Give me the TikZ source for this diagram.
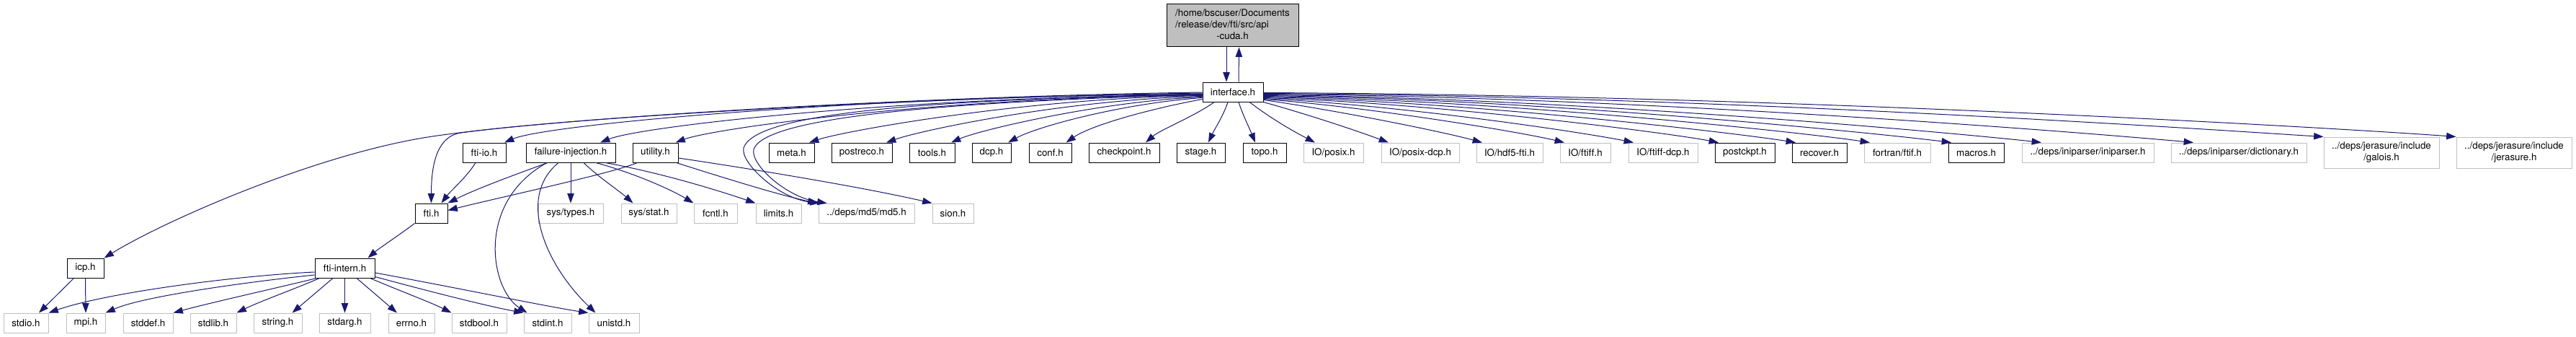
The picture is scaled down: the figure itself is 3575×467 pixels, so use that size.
\documentclass[tikz,border=0pt]{standalone}
\usepackage{fontspec}
\setmainfont[Ligatures=NoCommon]{TeX Gyre Heros}
\usetikzlibrary{arrows.meta,calc}
\definecolor{edgeblue}{HTML}{191970}
\definecolor{grayb}{HTML}{BFBFBF}
\begin{document}
\begin{tikzpicture}[x=0.75pt,y=-0.75pt,
  box/.style={draw, fill=white, inner sep=0pt, line width=0.75pt, font=\fontsize{10}{12}\selectfont},
  doc/.style={box, draw=black},
  ext/.style={box, draw=grayb},
  wh/.style 2 args={minimum width=#1*0.75pt, minimum height=#2*0.75pt},
  edge/.style={draw=edgeblue, line width=0.75pt, -{Triangle[length=10pt,width=7pt]}}
]
\fill[white] (0,0) rectangle (3575,467);
\useasboundingbox (0,0) rectangle (3575,467);

% row 0/1
\node[doc,fill=grayb,wh={183}{59}] (api) at (1710.5,35.5) {\begin{tabular}{@{}l@{}}/home/bscuser/Documents\\/release/dev/fti/src/api\\\multicolumn{1}{@{}c@{}}{-cuda.h}\end{tabular}};
\node[doc,wh={84}{27}] (intf) at (1711,127.5) {interface.h};

% row 2
\node[doc,wh={60}{27}] (ftiio) at (672,211.5) {fti-io.h};
\node[doc,wh={124}{27}] (finj) at (792,211.5) {failure-injection.h};
\node[doc,wh={63}{27}] (util) at (909.5,211.5) {utility.h};
\node[doc,wh={63}{27}] (meta) at (1098.5,211.5) {meta.h};
\node[doc,wh={84}{27}] (postreco) at (1196,211.5) {postreco.h};
\node[doc,wh={63}{27}] (tools) at (1293.5,211.5) {tools.h};
\node[doc,wh={54}{27}] (dcp) at (1376,211.5) {dcp.h};
\node[doc,wh={59}{27}] (conf) at (1457.5,211.5) {conf.h};
\node[doc,wh={98}{27}] (ckpt) at (1560,211.5) {checkpoint.h};
\node[doc,wh={67}{27}] (stage) at (1666.5,211.5) {stage.h};
\node[doc,wh={60}{27}] (topo) at (1755,211.5) {topo.h};
\node[ext,wh={83}{27}] (posix) at (1850.5,211.5) {IO/posix.h};
\node[ext,wh={108}{27}] (posixdcp) at (1971,211.5) {IO/posix-dcp.h};
\node[ext,wh={92}{27}] (hdf5) at (2095,211.5) {IO/hdf5-fti.h};
\node[ext,wh={70}{27}] (ftiff) at (2200,211.5) {IO/ftiff.h};
\node[ext,wh={96}{27}] (ftiffdcp) at (2308,211.5) {IO/ftiff-dcp.h};
\node[doc,wh={83}{27}] (postckpt) at (2421.5,211.5) {postckpt.h};
\node[doc,wh={76}{27}] (recover) at (2525,211.5) {recover.h};
\node[ext,wh={92}{27}] (fortran) at (2633,211.5) {fortran/ftif.h};
\node[doc,wh={77}{27}] (macros) at (2742.5,211.5) {macros.h};
\node[ext,wh={183}{27}] (ini) at (2897.5,211.5) {../deps/iniparser/iniparser.h};
\node[ext,wh={188}{27}] (dict) at (3107,211.5) {../deps/iniparser/dictionary.h};
\node[ext,wh={160}{43},align=center] (galois) at (3305,211.5) {../deps/jerasure/include\\/galois.h};
\node[ext,wh={160}{43},align=center] (jer) at (3489,211.5) {../deps/jerasure/include\\/jerasure.h};

% row 3
\node[doc,wh={45}{27}] (fti) at (598.5,295.5) {fti.h};
\node[ext,wh={90}{27}] (systypes) at (792,295.5) {sys/types.h};
\node[ext,wh={77}{27}] (sysstat) at (900.5,295.5) {sys/stat.h};
\node[ext,wh={60}{27}] (fcntl) at (993,295.5) {fcntl.h};
\node[ext,wh={63}{27}] (limits) at (1080.5,295.5) {limits.h};
\node[ext,wh={133}{27}] (md5) at (1202.5,295.5) {../deps/md5/md5.h};
\node[ext,wh={57}{27}] (sion) at (1322.5,295.5) {sion.h};

% row 4
\node[doc,wh={51}{27}] (icp) at (118.5,371.5) {icp.h};
\node[doc,wh={83}{27}] (fintern) at (478.5,371.5) {fti-intern.h};

% row 5
\node[ext,wh={62}{27}] (stdio) at (36,447.5) {stdio.h};
\node[ext,wh={54}{27}] (mpi) at (119,447.5) {mpi.h};
\node[ext,wh={69}{27}] (stddef) at (205.5,447.5) {stddef.h};
\node[ext,wh={64}{27}] (stdlib) at (296,447.5) {stdlib.h};
\node[ext,wh={67}{27}] (string) at (385.5,447.5) {string.h};
\node[ext,wh={71}{27}] (stdarg) at (478.5,447.5) {stdarg.h};
\node[ext,wh={64}{27}] (errno) at (571,447.5) {errno.h};
\node[ext,wh={76}{27}] (stdbool) at (665,447.5) {stdbool.h};
\node[ext,wh={66}{27}] (stdint) at (760,447.5) {stdint.h};
\node[ext,wh={70}{27}] (unistd) at (852,447.5) {unistd.h};

% api <-> interface
\draw[edge] ($(api.south)+(-8.5,0)$) -- ($(intf.north)+(-9,0)$);
\draw[edge] ($(intf.north)+(8,0)$) -- ($(api.south)+(9,0)$);

% interface -> left
\draw[edge] ($(intf.west)+(0,0.5)$) .. controls (1300,133) and (797,161) .. (607,188) .. controls (447,210) and (230,305) .. (icp.north east);
\draw[edge] ($(intf.west)+(0,1.5)$) .. controls (1300,134) and (800,162) .. (640,184) .. controls (610,188) and (598.5,220) .. (fti.north);
\draw[edge] ($(intf.west)+(0,2.5)$) .. controls (1350,138) and (1050,150) .. (1032,205) .. controls (1027,225) and (1080,275) .. ($(md5.north west)+(2,0)$);
\draw[edge] ($(intf.west)+(0,3.5)$) .. controls (1360,140) and (1062,158) .. (1046,207) .. controls (1041,227) and (1090,273) .. ($(md5.north west)+(12,0)$);
\draw[edge] ($(intf.west)+(0,3)$) .. controls (1200,133) and (760,172) .. ($(ftiio.north)+(28,0)$);
\draw[edge] ($(intf.west)+(0,4)$) .. controls (1250,134) and (890,175) .. ($(finj.north)+(41,0)$);
\draw[edge] ($(intf.west)+(0,4.5)$) .. controls (1300,135) and (990,178) .. ($(util.north)+(28,0)$);
\draw[edge] ($(intf.west)+(0,5)$) .. controls (1420,136) and (1170,182) .. ($(meta.north)+(24.5,0)$);
\draw[edge] ($(intf.west)+(0,6)$) .. controls (1480,138) and (1280,180) .. ($(postreco.north)+(34,0)$);
\draw[edge] ($(intf.west)+(0,7)$) .. controls (1530,140) and (1360,180) .. ($(tools.north)+(26.5,0)$);
\draw[edge] ($(intf.west)+(0,8)$) .. controls (1560,143) and (1440,175) .. ($(dcp.north)+(23,0)$);
\draw[edge] ($(intf.west)+(0,10)$) .. controls (1600,150) and (1515,173) .. ($(conf.north)+(22,0)$);
\draw[edge] ($(intf.south)+(-26,0)$) .. controls (1660,160) and (1610,180) .. ($(ckpt.north)+(30,0)$);
\draw[edge] ($(intf.south)+(-7,0)$) .. controls (1698,160) and (1685,180) .. ($(stage.north)+(10.5,0)$);
\draw[edge] ($(intf.south)+(8,0)$) .. controls (1725,160) and (1735,180) .. ($(topo.north)+(-13,0)$);

% interface -> right
\draw[edge] ($(intf.south)+(23,0)$) .. controls (1765,165) and (1795,182) .. ($(posix.north)+(-25.5,0)$);
\draw[edge] (intf.south east) .. controls (1820,160) and (1885,182) .. ($(posixdcp.north)+(-44,0)$);
\draw[edge] ($(intf.east)+(0,11)$) .. controls (1850,152) and (2000,182) .. ($(hdf5.north)+(-38,0)$);
\draw[edge] ($(intf.east)+(0,10)$) .. controls (1900,148) and (2110,183) .. ($(ftiff.north)+(-29,0)$);
\draw[edge] ($(intf.east)+(0,9)$) .. controls (1950,146) and (2200,184) .. ($(ftiffdcp.north)+(-41,0)$);
\draw[edge] ($(intf.east)+(0,8)$) .. controls (2000,143) and (2320,185) .. ($(postckpt.north)+(-36.5,0)$);
\draw[edge] ($(intf.east)+(0,7)$) .. controls (2050,141) and (2420,186) .. ($(recover.north)+(-33,0)$);
\draw[edge] ($(intf.east)+(0,6)$) .. controls (2100,139) and (2520,186) .. ($(fortran.north)+(-38,0)$);
\draw[edge] ($(intf.east)+(0,5)$) .. controls (2150,137) and (2625,187) .. ($(macros.north)+(-34.5,0)$);
\draw[edge] ($(intf.east)+(0,4)$) .. controls (2200,136) and (2740,187) .. ($(ini.north)+(-64.5,0)$);
\draw[edge] ($(intf.east)+(0,3)$) .. controls (2300,134) and (2940,188) .. ($(dict.north)+(-63,0)$);
\draw[edge] ($(intf.east)+(0,2)$) .. controls (2400,133) and (3100,182) .. (galois.north west);
\draw[edge] ($(intf.east)+(0,1)$) .. controls (2500,132) and (3280,180) .. (jer.north west);

% fti-io, failure-injection, utility
\draw[edge] ($(ftiio.south)+(-12,0)$) .. controls (648,245) and (625,265) .. ($(fti.north)+(14,0)$);
\draw[edge] ($(finj.south)+(-32,0)$) .. controls (720,240) and (660,262) .. (fti.north east);
\draw[edge] (finj.south) -- (systypes.north);
\draw[edge] ($(finj.south)+(18,0)$) .. controls (830,245) and (860,265) .. ($(sysstat.north)+(-22,0)$);
\draw[edge] ($(finj.south)+(35,0)$) .. controls (880,240) and (930,262) .. (fcntl.north west);
\draw[edge] ($(finj.south)+(48,0)$) .. controls (920,240) and (1000,265) .. (limits.north west);
\draw[edge] ($(finj.south)+(-33,0)$) .. controls (660,280) and (680,400) .. ($(stdint.north west)+(5,0)$);
\draw[edge] ($(finj.south)+(-17,0)$) .. controls (715,275) and (760,370) .. ($(unistd.north west)+(10,0)$);
\draw[edge] ($(util.south west)+(7,0)$) .. controls (850,240) and (700,272) .. ($(fti.east)+(0,-4)$);
\draw[edge] ($(util.east)+(0,7.5)$) .. controls (1050,235) and (1200,260) .. (sion.north west);
\draw[edge] ($(util.south east)+(-3,0)$) .. controls (1000,245) and (1080,270) .. ($(md5.north west)+(-1,0)$);

% fti, icp
\draw[edge] (fti.south west) .. controls (555,325) and (525,345) .. ($(fintern.north east)+(-10,0)$);
\draw[edge] ($(icp.south west)+(10,0)$) -- ($(stdio.north)+(18,0)$);
\draw[edge] (icp.south) -- (mpi.north);

% fti-intern
\draw[edge] ($(fintern.west)+(0,5.5)$) .. controls (330,382) and (150,405) .. (stdio.north east);
\draw[edge] ($(fintern.west)+(0,9.5)$) .. controls (350,390) and (200,410) .. (mpi.north east);
\draw[edge] ($(fintern.south west)+(3,0)$) .. controls (380,400) and (290,420) .. (stddef.north east);
\draw[edge] ($(fintern.south west)+(7,0)$) .. controls (410,400) and (360,418) .. (stdlib.north east);
\draw[edge] ($(fintern.south)+(-16.5,0)$) -- ($(string.north)+(20,0)$);
\draw[edge] (fintern.south) -- (stdarg.north);
\draw[edge] ($(fintern.south)+(16.5,0)$) -- ($(errno.north)+(-20,0)$);
\draw[edge] ($(fintern.south east)+(-7,0)$) .. controls (560,405) and (600,420) .. (stdbool.north west);
\draw[edge] ($(fintern.south east)+(0,-2)$) .. controls (600,405) and (680,425) .. (stdint.north west);
\draw[edge] ($(fintern.east)+(0,6.5)$) .. controls (640,400) and (760,425) .. (unistd.north west);
\end{tikzpicture}
\end{document}
